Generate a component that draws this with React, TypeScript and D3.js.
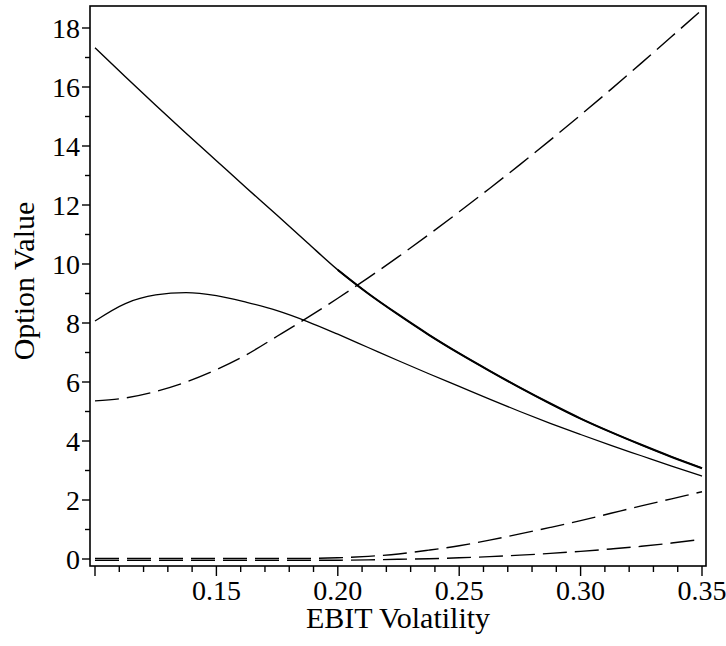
import React, { useEffect, useRef } from 'react';
import * as d3 from 'd3';

// EBIT volatility grid (x)
const volatility = [
    0.1, 0.1125, 0.125, 0.1375, 0.15, 0.1625, 0.175, 0.1875, 0.2, 0.2125, 0.225,
    0.2375, 0.25, 0.2625, 0.275, 0.2875, 0.3, 0.3125, 0.325, 0.3375, 0.35
];

// solid curves
const solidTop = [
    17.33, 16.35, 15.38, 14.43, 13.5, 12.57, 11.65, 10.72, 9.8, 9.0, 8.28,
    7.6, 6.97, 6.38, 5.81, 5.27, 4.76, 4.3, 3.87, 3.46, 3.08
];
const solidHump = [
    8.07, 8.66, 8.95, 9.03, 8.93, 8.7, 8.42, 8.05, 7.62, 7.17, 6.72,
    6.28, 5.85, 5.42, 5.0, 4.6, 4.22, 3.85, 3.5, 3.15, 2.81
];

// dashed curves
const dashedRising = [
    5.36, 5.46, 5.68, 6.0, 6.42, 6.93, 7.55, 8.18, 8.84, 9.53, 10.25,
    11.0, 11.77, 12.56, 13.37, 14.2, 15.05, 15.92, 16.81, 17.71, 18.62
];
const dashedMid = [
    0.02, 0.02, 0.02, 0.02, 0.02, 0.02, 0.02, 0.02, 0.04, 0.09, 0.17,
    0.3, 0.45, 0.64, 0.85, 1.07, 1.3, 1.55, 1.8, 2.04, 2.28
];
const dashedLow = [
    -0.04, -0.04, -0.04, -0.04, -0.04, -0.04, -0.04, -0.04, -0.04, -0.03, -0.01,
    0.01, 0.04, 0.08, 0.13, 0.19, 0.26, 0.34, 0.43, 0.54, 0.67
];

const xTickLabels = ['0.15', '0.20', '0.25', '0.30', '0.35'];
const yTickLabels = ['0', '2', '4', '6', '8', '10', '12', '14', '16', '18'];

const App = () => {
    const ref = useRef<SVGSVGElement>(null);

    useEffect(() => {
        const width = 726;
        const height = 646;
        const box = { left: 90, top: 6, right: 706, bottom: 566 };
        const font = "'Liberation Serif', 'Times New Roman', Times, serif";

        const svg = d3.select(ref.current);
        svg.selectAll('*').remove();
        svg.attr('width', width).attr('height', height);

        const x = d3.scaleLinear().domain([0.1, 0.35]).range([95, 702]);
        const y = d3.scaleLinear().domain([0, 18]).range([559, 28]);

        const line = d3.line<number>()
            .x((d, i) => x(volatility[i]))
            .y((d) => y(d))
            .curve(d3.curveMonotoneX);

        const drawCurve = (values: number[], dashed: boolean, w: number) => {
            svg.append('path')
                .attr('d', line(values))
                .attr('fill', 'none')
                .attr('stroke', '#000')
                .attr('stroke-width', w)
                .attr('stroke-dasharray', dashed ? '24,8' : null);
        };

        drawCurve(solidTop, false, 1.4);
        // the right part of the top curve shows doubled / heavier
        const heavyLine = d3.line<number>()
            .defined((d, i) => volatility[i] >= 0.2)
            .x((d, i) => x(volatility[i]))
            .y((d) => y(d))
            .curve(d3.curveMonotoneX);
        svg.append('path')
            .attr('d', heavyLine(solidTop))
            .attr('fill', 'none')
            .attr('stroke', '#000')
            .attr('stroke-width', 2.1);
        drawCurve(solidHump, false, 1.3);
        drawCurve(dashedRising, true, 1.4);
        drawCurve(dashedMid, true, 1.4);
        drawCurve(dashedLow, true, 1.4);

        // frame
        svg.append('rect')
            .attr('x', box.left)
            .attr('y', box.top)
            .attr('width', box.right - box.left)
            .attr('height', box.bottom - box.top)
            .attr('fill', 'none')
            .attr('stroke', '#000')
            .attr('stroke-width', 1.6);

        // x ticks every 0.01
        const xTicks = d3.range(10, 36).map((i) => i / 100);
        svg.append('g').selectAll('line')
            .data(xTicks)
            .enter()
            .append('line')
            .attr('x1', (d) => x(d))
            .attr('x2', (d) => x(d))
            .attr('y1', box.bottom)
            .attr('y2', (d, i) => box.bottom + (i % 5 === 0 ? 10 : 6))
            .attr('stroke', '#000')
            .attr('stroke-width', 1.4);

        svg.append('g').selectAll('text')
            .data(xTickLabels)
            .enter()
            .append('text')
            .attr('x', (d) => x(+d))
            .attr('y', 600)
            .attr('text-anchor', 'middle')
            .style('font-family', font)
            .style('font-size', '28px')
            .text((d) => d);

        // y ticks every 1
        const yTicks = d3.range(0, 19);
        svg.append('g').selectAll('line')
            .data(yTicks)
            .enter()
            .append('line')
            .attr('x1', box.left)
            .attr('x2', (d) => box.left - (d % 2 === 0 ? 8 : 5))
            .attr('y1', (d) => y(d))
            .attr('y2', (d) => y(d))
            .attr('stroke', '#000')
            .attr('stroke-width', 1.4);

        svg.append('g').selectAll('text')
            .data(yTickLabels)
            .enter()
            .append('text')
            .attr('x', 80)
            .attr('y', (d) => y(+d) + 9.5)
            .attr('text-anchor', 'end')
            .style('font-family', font)
            .style('font-size', '28px')
            .text((d) => d);

        // axis titles
        svg.append('text')
            .attr('x', (box.left + box.right) / 2)
            .attr('y', 628)
            .attr('text-anchor', 'middle')
            .style('font-family', font)
            .style('font-size', '30px')
            .text('EBIT Volatility');

        svg.append('text')
            .attr('transform', `translate(34, ${281}) rotate(-90)`)
            .attr('text-anchor', 'middle')
            .style('font-family', font)
            .style('font-size', '30px')
            .text('Option Value');
    }, []);

    return (
        <svg ref={ref} style={{ position: 'absolute', left: 0, top: 0, background: '#fff' }} />
    );
};

export default App;
